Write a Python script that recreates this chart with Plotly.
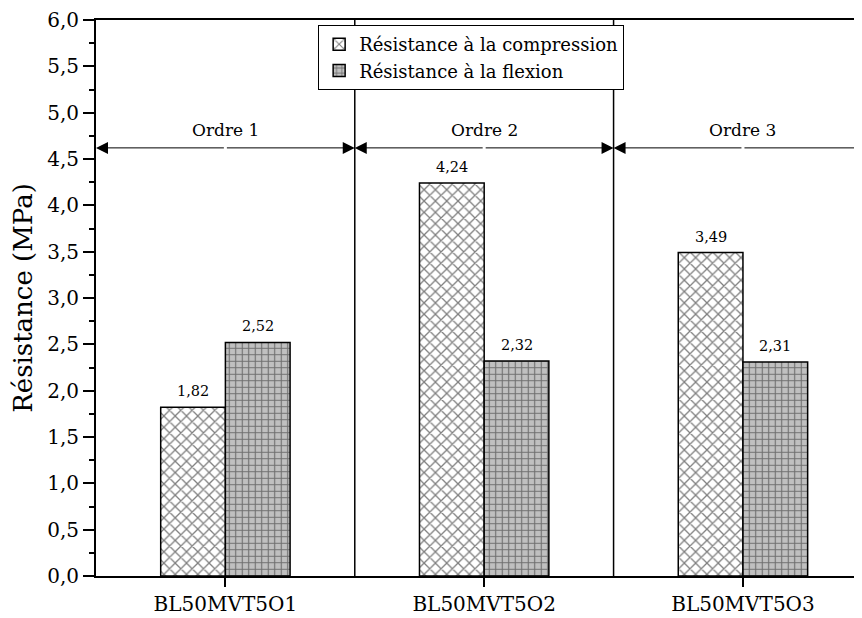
import plotly.graph_objects as go

categories = ["BL50MVT5O1", "BL50MVT5O2", "BL50MVT5O3"]
compression = [1.82, 4.24, 3.49]
flexion = [2.52, 2.32, 2.31]
ordres = ["Ordre 1", "Ordre 2", "Ordre 3"]
series_names = ["Résistance à la compression", "Résistance à la flexion"]
y_ticks = [0.0, 0.5, 1.0, 1.5, 2.0, 2.5, 3.0, 3.5, 4.0, 4.5, 5.0, 5.5, 6.0]
arrow_level = 4.62

FONT = "DejaVu Serif"
BAR_HALF = 0.125  # offset of each bar of a group from the category centre

fig = go.Figure()
fig.add_trace(go.Bar(
    x=categories, y=compression, name=series_names[0],
    marker=dict(color="white", line=dict(color="black", width=1.5),
                pattern=dict(shape="x", fgcolor="black", bgcolor="white", size=8, solidity=0.3)),
))
fig.add_trace(go.Bar(
    x=categories, y=flexion, name=series_names[1],
    marker=dict(color="#c0c0c0", line=dict(color="black", width=1.5),
                pattern=dict(shape="+", fgcolor="#1a1a1a", bgcolor="#c0c0c0", size=6.5, solidity=0.3)),
))

shapes = []
annotations = []
n = len(categories)
for i in range(n):
    left, right = i - 0.5, i + 0.5
    if i > 0:
        shapes.append(dict(type="line", xref="x", yref="y", x0=left, x1=left, y0=0, y1=6,
                           line=dict(color="black", width=1.5), layer="above"))
    for tip in (left, right):
        annotations.append(dict(x=tip, y=arrow_level, ax=i, ay=arrow_level, xref="x", yref="y",
                                axref="x", ayref="y", text="", showarrow=True, arrowhead=2,
                                arrowsize=2.4, arrowwidth=1, arrowcolor="black", standoff=0))
    annotations.append(dict(x=i, y=arrow_level, xref="x", yref="y", text=ordres[i], showarrow=False,
                            yanchor="bottom", yshift=6, font=dict(family=FONT, size=17, color="black")))
    for off, vals in ((-BAR_HALF, compression), (BAR_HALF, flexion)):
        annotations.append(dict(x=i + off, y=vals[i], xref="x", yref="y",
                                text=f"{vals[i]:.2f}".replace(".", ","), showarrow=False,
                                yanchor="bottom", yshift=6,
                                font=dict(family=FONT, size=14.5, color="black")))

# The page body has an 8 px margin, so the figure is 8 px smaller than the window
fig.update_layout(
    width=854, height=610,
    margin=dict(l=88, r=0, t=10, b=42),
    paper_bgcolor="white", plot_bgcolor="white",
    separators=", ",
    barmode="group", bargap=0.5, bargroupgap=0,
    font=dict(family=FONT, size=20, color="black"),
    showlegend=True,
    legend=dict(x=0.29, y=0.991, xanchor="left", yanchor="top", bgcolor="white",
                bordercolor="black", borderwidth=1, font=dict(family=FONT, size=18, color="black"),
                tracegroupgap=0, itemwidth=30),
    shapes=shapes, annotations=annotations,
)
fig.update_xaxes(range=[-0.5, 2.46], showline=True, linecolor="black", linewidth=2, mirror=True,
                 ticks="outside", ticklen=9, tickwidth=2, tickcolor="black", showgrid=False,
                 tickfont=dict(family=FONT, size=20, color="black"))
fig.update_yaxes(range=[0, 6], tickvals=y_ticks, tickformat=".1f", showline=True, linecolor="black",
                 linewidth=2, ticks="outside", ticklen=11, tickwidth=2, tickcolor="black",
                 ticklabeloverflow="allow",
                 minor=dict(ticks="outside", ticklen=5, tickwidth=2, dtick=0.25, tickcolor="black"),
                 showgrid=False, zeroline=False,
                 tickfont=dict(family=FONT, size=20, color="black"),
                 title=dict(text="Résistance (MPa)", font=dict(family=FONT, size=26, color="black"), standoff=12))

fig.write_html("out.html")
